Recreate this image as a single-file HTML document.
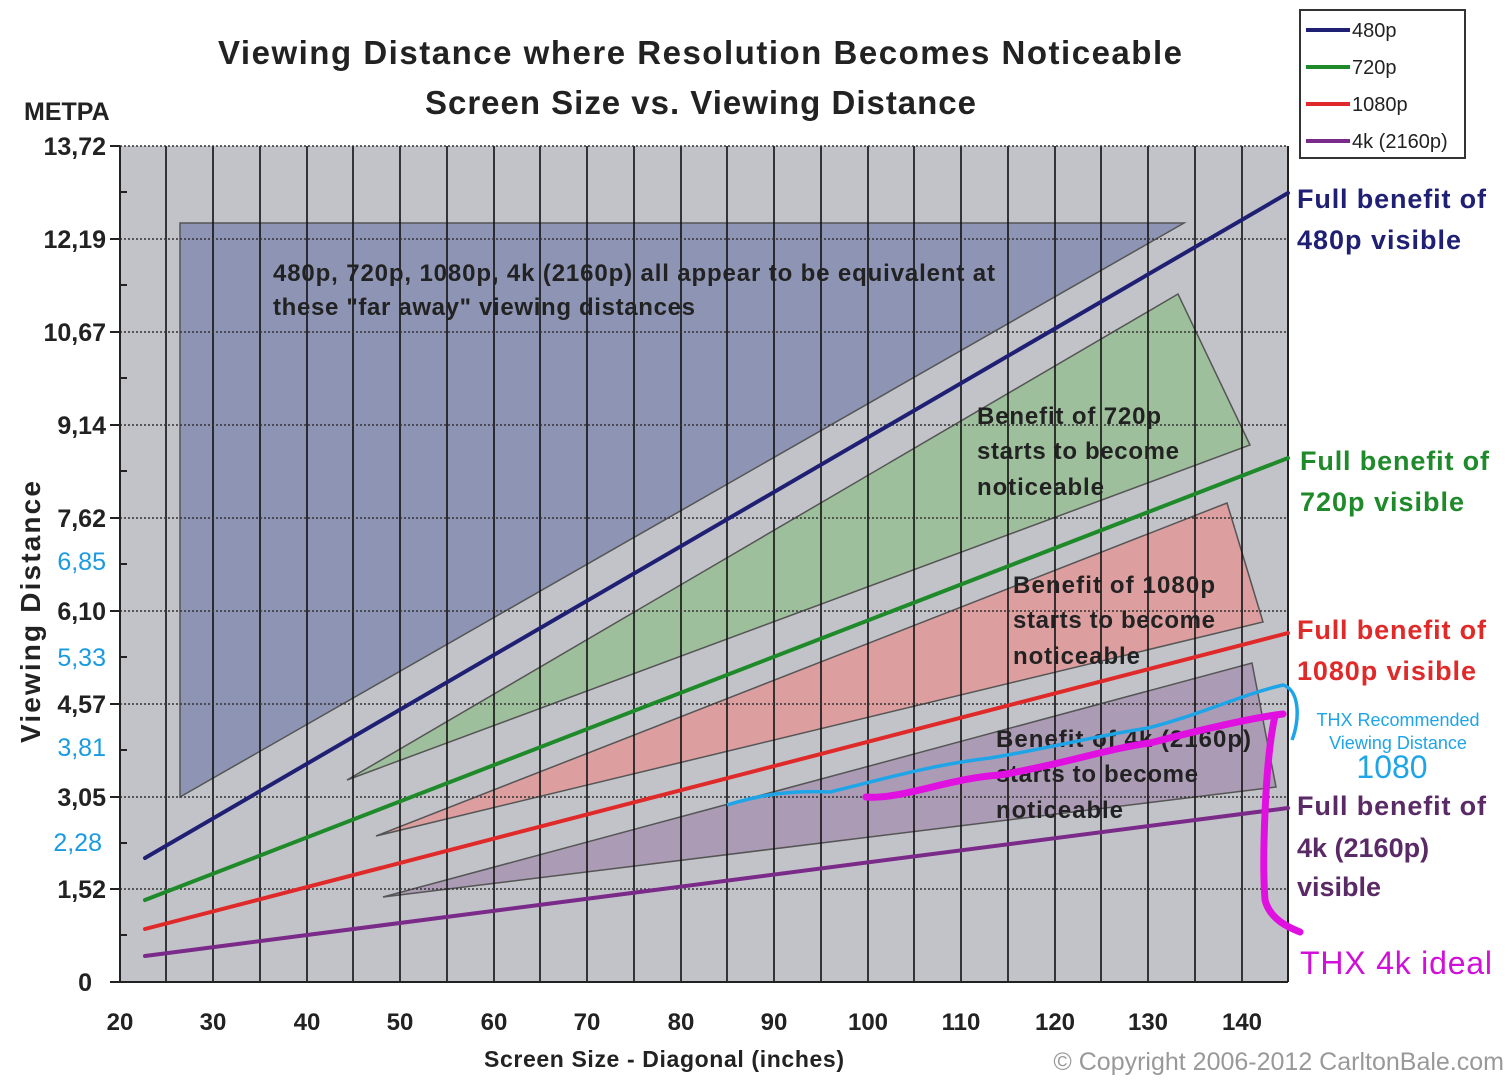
<!DOCTYPE html>
<html><head><meta charset="utf-8"><style>
body{margin:0;background:#fff;width:1512px;height:1080px;overflow:hidden}
svg text{font-family:"Liberation Sans",sans-serif}
</style></head><body>
<svg width="1512" height="1080" xmlns="http://www.w3.org/2000/svg">
<rect width="1512" height="1080" fill="#fff"/>
<text x="218" y="64" textLength="964" font-size="33" font-weight="bold" fill="#222">Viewing Distance where Resolution Becomes Noticeable</text>
<text x="425" y="114" textLength="551" font-size="33" font-weight="bold" fill="#222">Screen Size vs. Viewing Distance</text>
<text x="24" y="120" font-size="25" font-weight="bold" fill="#222">METPA</text>
<rect x="120" y="146" width="1168" height="836" fill="#c2c3c8"/>
<polygon points="180,223 1184,223 180,797" fill="#8e94b4" stroke="#555" stroke-width="1.5"/>
<polygon points="347,780 1178,294 1250,445" fill="#9ebf9c" stroke="#555" stroke-width="1.5"/>
<polygon points="376,836 1227,503 1263,622" fill="#dc9e9f" stroke="#555" stroke-width="1.5"/>
<polygon points="383,897 1252,663 1276,787" fill="#ab9bb4" stroke="#555" stroke-width="1.5"/>
<g stroke="#111" stroke-width="1.6">
<line x1="166" y1="146" x2="166" y2="982"/><line x1="213" y1="146" x2="213" y2="982"/><line x1="260" y1="146" x2="260" y2="982"/><line x1="307" y1="146" x2="307" y2="982"/><line x1="353" y1="146" x2="353" y2="982"/><line x1="400" y1="146" x2="400" y2="982"/><line x1="447" y1="146" x2="447" y2="982"/><line x1="494" y1="146" x2="494" y2="982"/><line x1="540" y1="146" x2="540" y2="982"/><line x1="587" y1="146" x2="587" y2="982"/><line x1="634" y1="146" x2="634" y2="982"/><line x1="681" y1="146" x2="681" y2="982"/><line x1="727" y1="146" x2="727" y2="982"/><line x1="774" y1="146" x2="774" y2="982"/><line x1="821" y1="146" x2="821" y2="982"/><line x1="868" y1="146" x2="868" y2="982"/><line x1="914" y1="146" x2="914" y2="982"/><line x1="961" y1="146" x2="961" y2="982"/><line x1="1008" y1="146" x2="1008" y2="982"/><line x1="1055" y1="146" x2="1055" y2="982"/><line x1="1101" y1="146" x2="1101" y2="982"/><line x1="1148" y1="146" x2="1148" y2="982"/><line x1="1195" y1="146" x2="1195" y2="982"/><line x1="1242" y1="146" x2="1242" y2="982"/>
</g>
<g stroke="#333" stroke-width="1.5" stroke-dasharray="2,2">
<line x1="120" y1="146" x2="1288" y2="146"/><line x1="120" y1="239" x2="1288" y2="239"/><line x1="120" y1="332" x2="1288" y2="332"/><line x1="120" y1="425" x2="1288" y2="425"/><line x1="120" y1="518" x2="1288" y2="518"/><line x1="120" y1="611" x2="1288" y2="611"/><line x1="120" y1="704" x2="1288" y2="704"/><line x1="120" y1="797" x2="1288" y2="797"/><line x1="120" y1="889" x2="1288" y2="889"/>
</g>
<g stroke="#222" stroke-width="2">
<line x1="120" y1="146" x2="120" y2="982"/><line x1="120" y1="982" x2="1288" y2="982"/><line x1="1288" y1="146" x2="1288" y2="982"/>
<line x1="110" y1="146" x2="120" y2="146"/><line x1="110" y1="239" x2="120" y2="239"/><line x1="110" y1="332" x2="120" y2="332"/><line x1="110" y1="425" x2="120" y2="425"/><line x1="110" y1="518" x2="120" y2="518"/><line x1="110" y1="611" x2="120" y2="611"/><line x1="110" y1="704" x2="120" y2="704"/><line x1="110" y1="797" x2="120" y2="797"/><line x1="110" y1="889" x2="120" y2="889"/><line x1="110" y1="982" x2="120" y2="982"/>
<line x1="120" y1="192" x2="127" y2="192"/><line x1="120" y1="285" x2="127" y2="285"/><line x1="120" y1="378" x2="127" y2="378"/><line x1="120" y1="471" x2="127" y2="471"/><line x1="120" y1="564" x2="127" y2="564"/><line x1="120" y1="657" x2="127" y2="657"/><line x1="120" y1="750" x2="127" y2="750"/><line x1="120" y1="843" x2="127" y2="843"/><line x1="120" y1="935" x2="127" y2="935"/>
</g>
<g stroke-width="4" stroke-linecap="round">
<line x1="145" y1="858" x2="1288" y2="193" stroke="#1f1f74"/>
<line x1="145" y1="900" x2="1288" y2="458" stroke="#1e8a2a"/>
<line x1="145" y1="929" x2="1288" y2="633" stroke="#e02a2a"/>
<line x1="145" y1="956" x2="1288" y2="808" stroke="#7a2a88"/>
</g>
<g font-size="24" font-weight="bold" fill="#222">
<text x="273" y="281" textLength="722">480p, 720p, 1080p, 4k (2160p) all appear to be equivalent at</text>
<text x="273" y="315" textLength="422">these "far away" viewing distances</text>
<text x="977" y="424" textLength="184">Benefit of 720p</text><text x="977" y="459" textLength="202">starts to become</text><text x="977" y="495" textLength="127">noticeable</text>
<text x="1013" y="593" textLength="202">Benefit of 1080p</text><text x="1013" y="628" textLength="202">starts to become</text><text x="1013" y="664" textLength="127">noticeable</text>
<text x="996" y="747" textLength="255">Benefit of 4k (2160p)</text><text x="996" y="782" textLength="202">starts to become</text><text x="996" y="818" textLength="127">noticeable</text>
</g>
<g font-size="25" font-weight="bold" fill="#222" text-anchor="end">
<text x="106" y="155">13,72</text><text x="106" y="248">12,19</text><text x="106" y="341">10,67</text><text x="106" y="434">9,14</text><text x="106" y="527">7,62</text><text x="106" y="620">6,10</text><text x="106" y="713">4,57</text><text x="106" y="806">3,05</text><text x="106" y="898">1,52</text><text x="92" y="991">0</text>
</g>
<g font-size="25" fill="#1a9be0" text-anchor="end">
<text x="106" y="570">6,85</text><text x="106" y="666">5,33</text><text x="106" y="756">3,81</text><text x="102" y="851">2,28</text>
</g>
<text transform="translate(40,612) rotate(-90)" text-anchor="middle" font-size="28" font-weight="bold" fill="#222" textLength="262">Viewing Distance</text>
<g font-size="24" font-weight="bold" fill="#222" text-anchor="middle">
<text x="120" y="1030">20</text><text x="213" y="1030">30</text><text x="307" y="1030">40</text><text x="400" y="1030">50</text><text x="494" y="1030">60</text><text x="587" y="1030">70</text><text x="681" y="1030">80</text><text x="774" y="1030">90</text><text x="868" y="1030">100</text><text x="961" y="1030">110</text><text x="1055" y="1030">120</text><text x="1148" y="1030">130</text><text x="1242" y="1030">140</text>
</g>
<text x="484" y="1067" textLength="360" font-size="23" font-weight="bold" fill="#222">Screen Size - Diagonal (inches)</text>
<text x="1504" y="1070" text-anchor="end" font-size="25" fill="#999">© Copyright 2006-2012 CarltonBale.com</text>
<g font-size="27" font-weight="bold">
<text x="1297" y="208" fill="#1f1f74" textLength="189">Full benefit of</text><text x="1297" y="249" fill="#1f1f74" textLength="164">480p visible</text>
<text x="1300" y="470" fill="#1e8a2a" textLength="189">Full benefit of</text><text x="1300" y="511" fill="#1e8a2a" textLength="164">720p visible</text>
<text x="1297" y="639" fill="#e02a2a" textLength="189">Full benefit of</text><text x="1297" y="680" fill="#e02a2a" textLength="179">1080p visible</text>
<text x="1297" y="815" fill="#5a2a66" textLength="189">Full benefit of</text><text x="1297" y="857" fill="#5a2a66">4k (2160p)</text><text x="1297" y="896" fill="#5a2a66">visible</text>
</g>
<rect x="1300" y="10" width="165" height="148" fill="#fff" stroke="#333" stroke-width="2"/>
<g stroke-width="4"><line x1="1306" y1="30" x2="1350" y2="30" stroke="#1f1f74"/><line x1="1306" y1="67" x2="1350" y2="67" stroke="#1e8a2a"/><line x1="1306" y1="104" x2="1350" y2="104" stroke="#e02a2a"/><line x1="1306" y1="141" x2="1350" y2="141" stroke="#7a2a88"/></g>
<g font-size="20" fill="#222"><text x="1352" y="37">480p</text><text x="1352" y="74">720p</text><text x="1352" y="111">1080p</text><text x="1352" y="148">4k (2160p)</text></g>
<path d="M727,805 C760,795 790,790 830,792 C880,780 930,765 990,758 C1050,748 1100,735 1148,728 C1200,715 1240,695 1283,685 C1300,690 1300,720 1292,740" fill="none" stroke="#1ea5e8" stroke-width="3.5"/>
<path d="M866,797 C900,800 950,778 1000,775 C1060,765 1110,748 1150,743 C1200,730 1250,718 1283,714 M1275,716 C1265,760 1262,860 1265,900 C1270,920 1290,928 1300,932" fill="none" stroke="#e010e0" stroke-width="7" stroke-linecap="round"/>
<text x="1398" y="726" text-anchor="middle" font-size="18" fill="#1ea5e8">THX Recommended</text>
<text x="1398" y="749" text-anchor="middle" font-size="18" fill="#1ea5e8">Viewing Distance</text>
<text x="1392" y="778" text-anchor="middle" font-size="32" fill="#1ea5e8">1080</text>
<text x="1300" y="974" font-size="32" fill="#d010d8" textLength="192">THX 4k ideal</text>
</svg>
</body></html>
